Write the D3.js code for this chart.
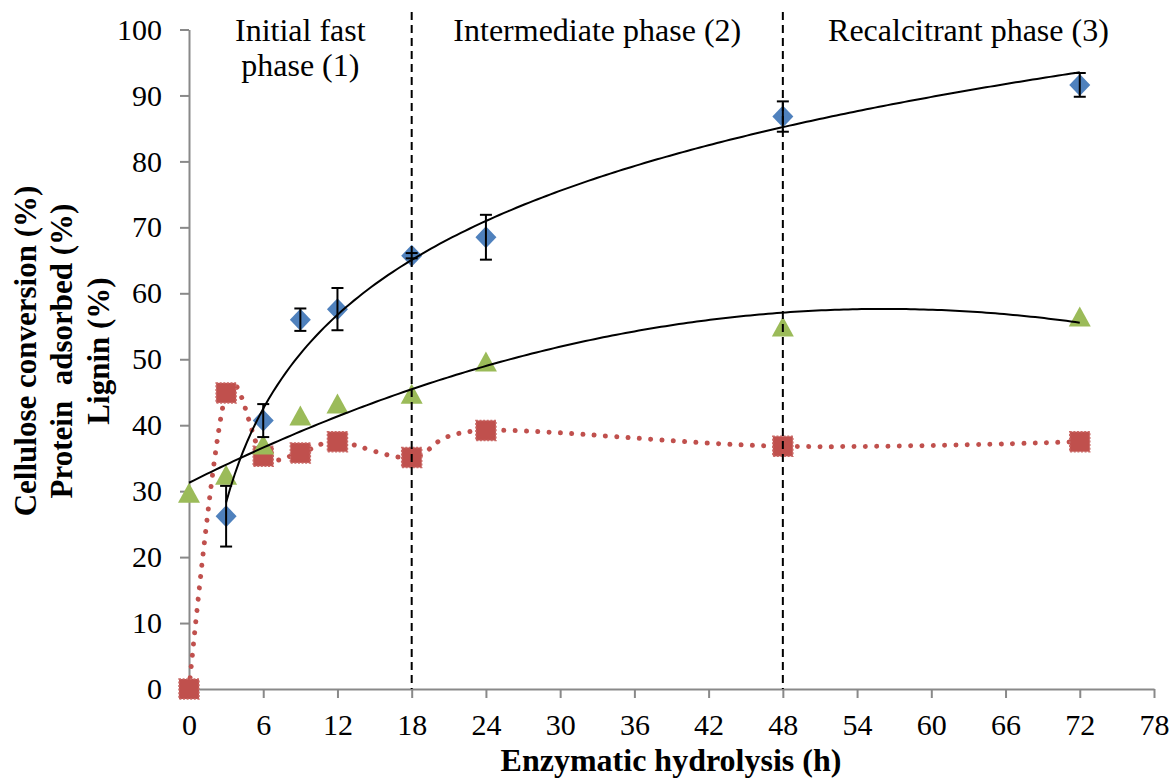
<!DOCTYPE html>
<html>
<head>
<meta charset="utf-8">
<script src="https://cdn.jsdelivr.net/npm/d3@7"></script>
<style>
  html, body { margin: 0; padding: 0; background: #fff; }
  svg { display: block; font-family: "Liberation Serif", "Times New Roman", Times, serif; }
</style>
</head>
<body>
<svg id="chart" width="1174" height="778"></svg>
<script>
// ---- data ----
const hours = [0, 3, 6, 9, 12, 18, 24, 48, 72];
const celluloseHours = [3, 6, 9, 12, 18, 24, 48, 72];
const celluloseConversion = [26.2, 40.7, 56.0, 57.6, 65.7, 68.5, 86.8, 91.6];
const celluloseError = [4.6, 2.5, 1.7, 3.2, 0.4, 3.4, 2.3, 1.8];
const proteinAdsorbed = [29.7, 32.4, 37.0, 41.4, 43.2, 44.7, 49.6, 54.9, 56.4];
const lignin = [0, 44.9, 35.3, 35.8, 37.5, 35.1, 39.2, 36.8, 37.5];

const xTickValues = [0, 6, 12, 18, 24, 30, 36, 42, 48, 54, 60, 66, 72, 78];
const yTickValues = [0, 10, 20, 30, 40, 50, 60, 70, 80, 90, 100];

const phaseBounds = [0, 18, 48, 78];
const phaseDividers = [18, 48];
const phaseLabels = [["Initial fast", "phase (1)"], ["Intermediate phase (2)"], ["Recalcitrant phase (3)"]];

const yTitleLines = ["Cellulose conversion (%)", "Protein  adsorbed (%)", "Lignin (%)"];
const xTitle = "Enzymatic hydrolysis (h)";

// ---- colours ----
const blue = "#4F81BD", red = "#C0504D", green = "#9BBB59", axisGrey = "#898989";

// ---- layout ----
const svg = d3.select("#chart");
const x = d3.scaleLinear().domain([0, 78]).range([189, 1154]);
const y = d3.scaleLinear().domain([0, 100]).range([689, 29.5]);

// ---- axes ----
const yAxis = svg.append("g")
  .attr("transform", `translate(${x(0)},0)`)
  .call(d3.axisLeft(y).tickValues(yTickValues).tickSize(9).tickSizeOuter(0).tickPadding(18));
const xAxis = svg.append("g")
  .attr("transform", `translate(0,${y(0)})`)
  .call(d3.axisBottom(x).tickValues(xTickValues).tickSize(9).tickSizeOuter(0).tickPadding(16));
[xAxis, yAxis].forEach(g => {
  g.attr("font-family", null).attr("font-size", null);
  g.select(".domain").attr("stroke", axisGrey).attr("stroke-width", 2);
  g.selectAll(".tick line").attr("stroke", axisGrey).attr("stroke-width", 2);
  g.selectAll(".tick text").attr("fill", "#000").style("font-size", "30px");
});

// ---- lignin: smoothed dotted line with square markers ----
const ligninPts = hours.map((h, i) => [x(h), y(lignin[i])]);
svg.append("path")
  .attr("d", d3.line().curve(d3.curveCatmullRom.alpha(0))(ligninPts))
  .attr("fill", "none")
  .attr("stroke", red)
  .attr("stroke-width", 5)
  .attr("stroke-linecap", "round")
  .attr("stroke-dasharray", "0.01 11.3");
svg.append("g").selectAll("rect")
  .data(ligninPts)
  .join("rect")
  .attr("x", d => d[0] - 10).attr("y", d => d[1] - 10)
  .attr("width", 20).attr("height", 20)
  .attr("fill", red)
  .attr("stroke", "#C96A67")
  .attr("stroke-width", 1.5)
  .attr("stroke-dasharray", "2 1.6");

// ---- protein adsorbed: triangles ----
svg.append("g").selectAll("path")
  .data(hours.map((h, i) => [x(h), y(proteinAdsorbed[i])]))
  .join("path")
  .attr("transform", d => `translate(${d[0]},${d[1]})`)
  .attr("d", "M0,-10.5L11,9.5L-11,9.5Z")
  .attr("fill", green);

// ---- cellulose conversion: diamonds ----
const cellPts = celluloseHours.map((h, i) => [x(h), y(celluloseConversion[i])]);
svg.append("g").selectAll("path")
  .data(cellPts)
  .join("path")
  .attr("transform", d => `translate(${d[0]},${d[1]})`)
  .attr("d", "M0,-11L10.5,0L0,11L-10.5,0Z")
  .attr("fill", blue);

// error bars
const eb = svg.append("g").attr("stroke", "#000").attr("stroke-width", 2);
celluloseHours.forEach((h, i) => {
  const cx = x(h);
  const lo = y(celluloseConversion[i] - celluloseError[i]);
  const hi = y(celluloseConversion[i] + celluloseError[i]);
  eb.append("line").attr("x1", cx).attr("x2", cx).attr("y1", lo).attr("y2", hi);
  eb.append("line").attr("x1", cx - 6).attr("x2", cx + 6).attr("y1", lo).attr("y2", lo);
  eb.append("line").attr("x1", cx - 6).attr("x2", cx + 6).attr("y1", hi).attr("y2", hi);
});

// ---- trend lines ----
// logarithmic least-squares fit for cellulose conversion
function logFit(xs, ys) {
  const lx = xs.map(Math.log);
  const mx = d3.mean(lx), my = d3.mean(ys);
  const a = d3.sum(lx, (v, i) => (v - mx) * (ys[i] - my)) / d3.sum(lx, v => (v - mx) ** 2);
  const b = my - a * mx;
  return t => a * Math.log(t) + b;
}
// second-order polynomial least-squares fit for protein adsorbed
function quadFit(xs, ys) {
  const s = k => d3.sum(xs, v => v ** k);
  const t = k => d3.sum(xs, (v, i) => v ** k * ys[i]);
  const M = [[s(0), s(1), s(2)], [s(1), s(2), s(3)], [s(2), s(3), s(4)]];
  const R = [t(0), t(1), t(2)];
  const det = m => m[0][0] * (m[1][1] * m[2][2] - m[1][2] * m[2][1])
                 - m[0][1] * (m[1][0] * m[2][2] - m[1][2] * m[2][0])
                 + m[0][2] * (m[1][0] * m[2][1] - m[1][1] * m[2][0]);
  const D = det(M);
  const coef = [0, 1, 2].map(c => det(M.map((row, r) => row.map((v, j) => (j === c ? R[r] : v)))) / D);
  return v => coef[0] + coef[1] * v + coef[2] * v * v;
}
function sampleCurve(f, x0, x1) {
  const n = 200, pts = [];
  for (let k = 0; k <= n; k++) {
    const t = x0 + (x1 - x0) * k / n;
    pts.push([x(t), y(f(t))]);
  }
  return pts;
}
const cellTrend = logFit(celluloseHours, celluloseConversion);
const protTrend = quadFit(hours, proteinAdsorbed);
const trendLine = d3.line();
svg.append("path")
  .attr("d", trendLine(sampleCurve(cellTrend, d3.min(celluloseHours), d3.max(celluloseHours))))
  .attr("fill", "none").attr("stroke", "#000").attr("stroke-width", 2);
svg.append("path")
  .attr("d", trendLine(sampleCurve(protTrend, d3.min(hours), d3.max(hours))))
  .attr("fill", "none").attr("stroke", "#000").attr("stroke-width", 2);

// ---- phase dividers ----
svg.append("g").selectAll("line")
  .data(phaseDividers)
  .join("line")
  .attr("x1", d => x(d)).attr("x2", d => x(d))
  .attr("y1", 12).attr("y2", y(0))
  .attr("stroke", "#000").attr("stroke-width", 2)
  .attr("stroke-dasharray", "8 5");

// ---- phase labels ----
phaseLabels.forEach((lines, i) => {
  const cx = x((phaseBounds[i] + phaseBounds[i + 1]) / 2);
  const t = svg.append("text")
    .attr("x", cx).attr("y", 41)
    .attr("text-anchor", "middle")
    .style("font-size", "32px");
  lines.forEach((ln, j) => {
    t.append("tspan").attr("x", cx).attr("dy", j === 0 ? 0 : 35).text(ln);
  });
});

// ---- axis titles ----
const yBaselines = [36, 72, 109];
yTitleLines.forEach((ln, i) => {
  svg.append("text")
    .attr("transform", `translate(${yBaselines[i]},351) rotate(-90)`)
    .attr("text-anchor", "middle")
    .style("font-size", "31px")
    .style("font-weight", "bold")
    .style("white-space", "pre")
    .text(ln);
});
svg.append("text")
  .attr("x", 671).attr("y", 771)
  .attr("text-anchor", "middle")
  .style("font-size", "32px")
  .style("font-weight", "bold")
  .text(xTitle);
</script>
</body>
</html>
